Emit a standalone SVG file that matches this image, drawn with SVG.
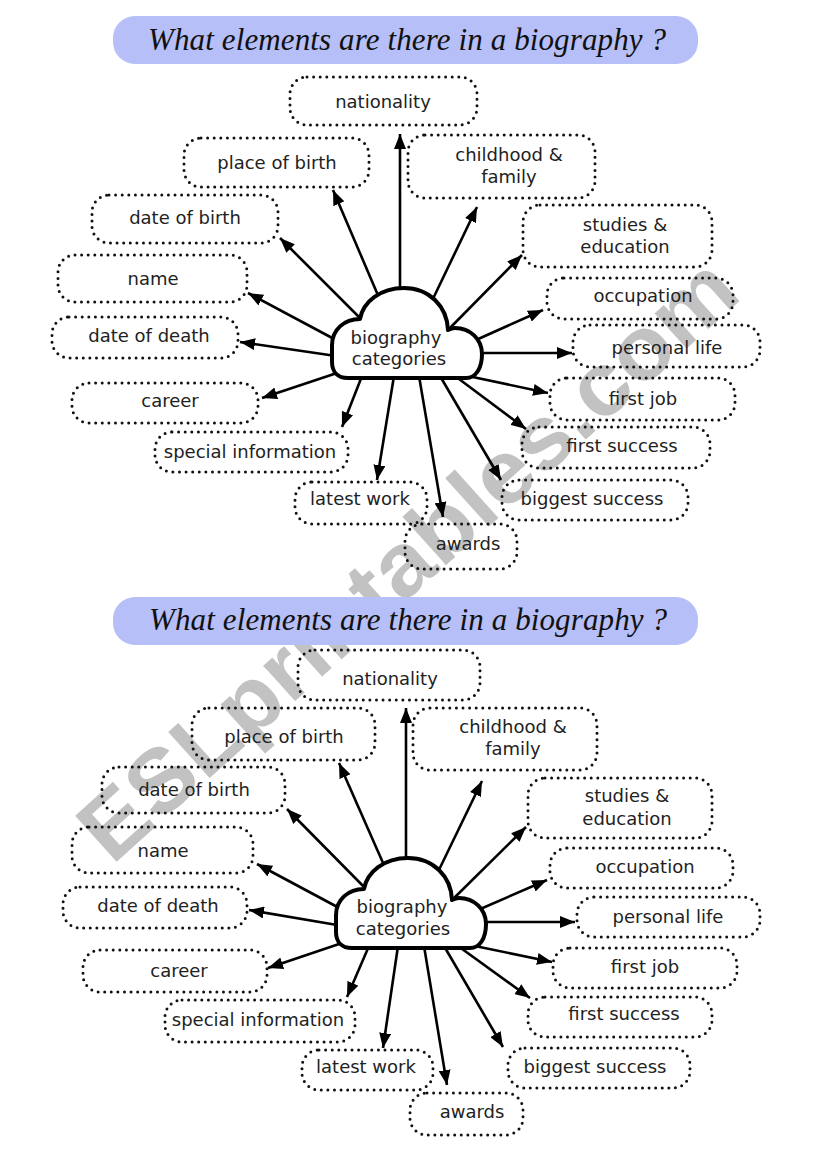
<svg xmlns="http://www.w3.org/2000/svg" width="821" height="1162" viewBox="0 0 821 1162">
<defs>
<style>
.bg{fill:#ffffff}
.bar{fill:#b6bff7}
.title{font-family:"Liberation Serif",serif;font-style:italic;font-size:31px;fill:#111;text-anchor:middle}
.box{fill:none;stroke:#111;stroke-width:3;stroke-dasharray:0 6.6;stroke-linecap:round}
.lbl{font-family:"DejaVu Sans",sans-serif;font-size:18px;fill:#222;text-anchor:middle}
.arr{stroke:#000;stroke-width:2.6;fill:none;marker-end:url(#ah)}
.cloud{fill:#fff;stroke:#000;stroke-width:4;stroke-linejoin:round}
.wm{font-family:"Liberation Sans",sans-serif;font-weight:bold;font-size:90px;fill:#c2c2c2}
</style>
<marker id="ah" viewBox="0 0 15 12" refX="15" refY="6" markerWidth="15" markerHeight="12" orient="auto" markerUnits="userSpaceOnUse"><path d="M0,0 L15,6 L0,12 z" fill="#000"/></marker>
<path id="cloudShape" d="M18,90 L136,90 C146,90 152,80 152,66 C152,51 140,40 125,40 C122,40 120,41 118,42 C117,18 99,0 74,0 C50,0 33,14 30,31 C14,31 2,42 2,57 L2,74 C2,84 8,90 18,90 Z"/>
</defs>
<rect class="bg" x="0" y="0" width="821" height="1162"/>
<text id="watermark" class="wm" x="0" y="0" textLength="850" lengthAdjust="spacingAndGlyphs" transform="translate(112,866) rotate(-42)">ESLprintables.com</text>

<!-- ============ TOP DIAGRAM ============ -->
<g id="title1">
<rect class="bar" x="113" y="16" width="585" height="48" rx="22"/>
<text class="title" x="407" y="50" textLength="518">What elements are there in a biography ?</text>
</g>
<g id="connectors1">
<line class="arr" x1="400" y1="300" x2="400" y2="134"/>
<line class="arr" x1="380" y1="300" x2="333" y2="190"/>
<line class="arr" x1="430" y1="305" x2="477" y2="207"/>
<line class="arr" x1="362" y1="320" x2="280" y2="238"/>
<line class="arr" x1="446" y1="332" x2="522" y2="255"/>
<line class="arr" x1="336" y1="340" x2="248" y2="293"/>
<line class="arr" x1="476" y1="340" x2="543" y2="310"/>
<line class="arr" x1="336" y1="356" x2="240" y2="342"/>
<line class="arr" x1="476" y1="353" x2="572" y2="353"/>
<line class="arr" x1="340" y1="372" x2="262" y2="398"/>
<line class="arr" x1="468" y1="376" x2="548" y2="393"/>
<line class="arr" x1="362" y1="376" x2="342" y2="427"/>
<line class="arr" x1="455" y1="376" x2="526" y2="429"/>
<line class="arr" x1="394" y1="376" x2="377" y2="480"/>
<line class="arr" x1="440" y1="376" x2="501" y2="480"/>
<line class="arr" x1="419" y1="376" x2="443" y2="517"/>
</g>
<g id="center1">
<use href="#cloudShape" class="cloud" transform="translate(330,288)"/>
<text class="lbl" x="396" y="344">biography</text>
<text class="lbl" x="399" y="365">categories</text>
</g>
<g id="nationality1"><rect class="box" x="290" y="77" width="187" height="48" rx="17"/><text class="lbl" x="383" y="108">nationality</text></g>
<g id="placeofbirth1"><rect class="box" x="184" y="138" width="185" height="49" rx="17"/><text class="lbl" x="277" y="169">place of birth</text></g>
<g id="childhood1"><rect class="box" x="408" y="135" width="187" height="63" rx="17"/><text class="lbl" x="509" y="161">childhood &amp;</text><text class="lbl" x="509" y="183">family</text></g>
<g id="dateofbirth1"><rect class="box" x="92" y="195" width="186" height="48" rx="17"/><text class="lbl" x="185" y="224">date of birth</text></g>
<g id="studies1"><rect class="box" x="523" y="205" width="189" height="62" rx="17"/><text class="lbl" x="625" y="231">studies &amp;</text><text class="lbl" x="625" y="253">education</text></g>
<g id="name1"><rect class="box" x="58" y="255" width="189" height="47" rx="17"/><text class="lbl" x="153" y="285">name</text></g>
<g id="occupation1"><rect class="box" x="547" y="278" width="186" height="41" rx="17"/><text class="lbl" x="643" y="302">occupation</text></g>
<g id="dateofdeath1"><rect class="box" x="52" y="317" width="186" height="41" rx="17"/><text class="lbl" x="149" y="342">date of death</text></g>
<g id="personallife1"><rect class="box" x="573" y="325" width="187" height="42" rx="17"/><text class="lbl" x="667" y="354">personal life</text></g>
<g id="career1"><rect class="box" x="72" y="383" width="186" height="40" rx="17"/><text class="lbl" x="170" y="407">career</text></g>
<g id="firstjob1"><rect class="box" x="550" y="378" width="185" height="42" rx="17"/><text class="lbl" x="643" y="405">first job</text></g>
<g id="special1"><rect class="box" x="155" y="432" width="193" height="40" rx="17"/><text class="lbl" x="250" y="458">special information</text></g>
<g id="firstsuccess1"><rect class="box" x="522" y="427" width="188" height="41" rx="17"/><text class="lbl" x="622" y="452">first success</text></g>
<g id="latestwork1"><rect class="box" x="295" y="482" width="132" height="42" rx="17"/><text class="lbl" x="360" y="505">latest work</text></g>
<g id="biggest1"><rect class="box" x="502" y="480" width="186" height="40" rx="17"/><text class="lbl" x="592" y="505">biggest success</text></g>
<g id="awards1"><rect class="box" x="405" y="524" width="112" height="45" rx="17"/><text class="lbl" x="468" y="550">awards</text></g>

<!-- ============ BOTTOM DIAGRAM ============ -->
<g id="title2">
<rect class="bar" x="113" y="597" width="585" height="48" rx="22"/>
<text class="title" x="408" y="630" textLength="518">What elements are there in a biography ?</text>
</g>
<g id="connectors2">
<line class="arr" x1="406" y1="870" x2="406" y2="708"/>
<line class="arr" x1="387" y1="872" x2="339" y2="763"/>
<line class="arr" x1="436" y1="876" x2="482" y2="781"/>
<line class="arr" x1="370" y1="893" x2="287" y2="809"/>
<line class="arr" x1="448" y1="904" x2="526" y2="827"/>
<line class="arr" x1="343" y1="910" x2="257" y2="864"/>
<line class="arr" x1="478" y1="910" x2="547" y2="880"/>
<line class="arr" x1="343" y1="926" x2="249" y2="910"/>
<line class="arr" x1="478" y1="922" x2="575" y2="922"/>
<line class="arr" x1="348" y1="941" x2="268" y2="968"/>
<line class="arr" x1="470" y1="945" x2="552" y2="962"/>
<line class="arr" x1="369" y1="946" x2="347" y2="997"/>
<line class="arr" x1="458" y1="946" x2="530" y2="998"/>
<line class="arr" x1="398" y1="946" x2="383" y2="1048"/>
<line class="arr" x1="444" y1="946" x2="503" y2="1047"/>
<line class="arr" x1="424" y1="946" x2="447" y2="1085"/>
</g>
<g id="center2">
<use href="#cloudShape" class="cloud" transform="translate(334,858)"/>
<text class="lbl" x="402" y="913">biography</text>
<text class="lbl" x="403" y="935">categories</text>
</g>
<g id="nationality2"><rect class="box" x="298" y="650" width="182" height="50" rx="17"/><text class="lbl" x="390" y="685">nationality</text></g>
<g id="placeofbirth2"><rect class="box" x="192" y="708" width="183" height="52" rx="17"/><text class="lbl" x="284" y="743">place of birth</text></g>
<g id="childhood2"><rect class="box" x="413" y="708" width="184" height="62" rx="17"/><text class="lbl" x="513" y="733">childhood &amp;</text><text class="lbl" x="513" y="755">family</text></g>
<g id="dateofbirth2"><rect class="box" x="102" y="767" width="183" height="46" rx="17"/><text class="lbl" x="194" y="796">date of birth</text></g>
<g id="studies2"><rect class="box" x="528" y="778" width="184" height="60" rx="17"/><text class="lbl" x="627" y="802">studies &amp;</text><text class="lbl" x="627" y="825">education</text></g>
<g id="name2"><rect class="box" x="72" y="827" width="181" height="46" rx="17"/><text class="lbl" x="163" y="857">name</text></g>
<g id="occupation2"><rect class="box" x="550" y="848" width="183" height="40" rx="17"/><text class="lbl" x="645" y="873">occupation</text></g>
<g id="dateofdeath2"><rect class="box" x="63" y="887" width="184" height="41" rx="17"/><text class="lbl" x="158" y="912">date of death</text></g>
<g id="personallife2"><rect class="box" x="577" y="897" width="183" height="40" rx="17"/><text class="lbl" x="668" y="923">personal life</text></g>
<g id="career2"><rect class="box" x="83" y="950" width="184" height="42" rx="17"/><text class="lbl" x="179" y="977">career</text></g>
<g id="firstjob2"><rect class="box" x="553" y="948" width="184" height="40" rx="17"/><text class="lbl" x="645" y="973">first job</text></g>
<g id="special2"><rect class="box" x="165" y="1000" width="190" height="42" rx="17"/><text class="lbl" x="258" y="1026">special information</text></g>
<g id="firstsuccess2"><rect class="box" x="528" y="997" width="184" height="40" rx="17"/><text class="lbl" x="624" y="1020">first success</text></g>
<g id="latestwork2"><rect class="box" x="302" y="1050" width="131" height="40" rx="17"/><text class="lbl" x="366" y="1073">latest work</text></g>
<g id="biggest2"><rect class="box" x="508" y="1048" width="182" height="40" rx="17"/><text class="lbl" x="595" y="1073">biggest success</text></g>
<g id="awards2"><rect class="box" x="410" y="1093" width="113" height="42" rx="17"/><text class="lbl" x="472" y="1118">awards</text></g>
</svg>
